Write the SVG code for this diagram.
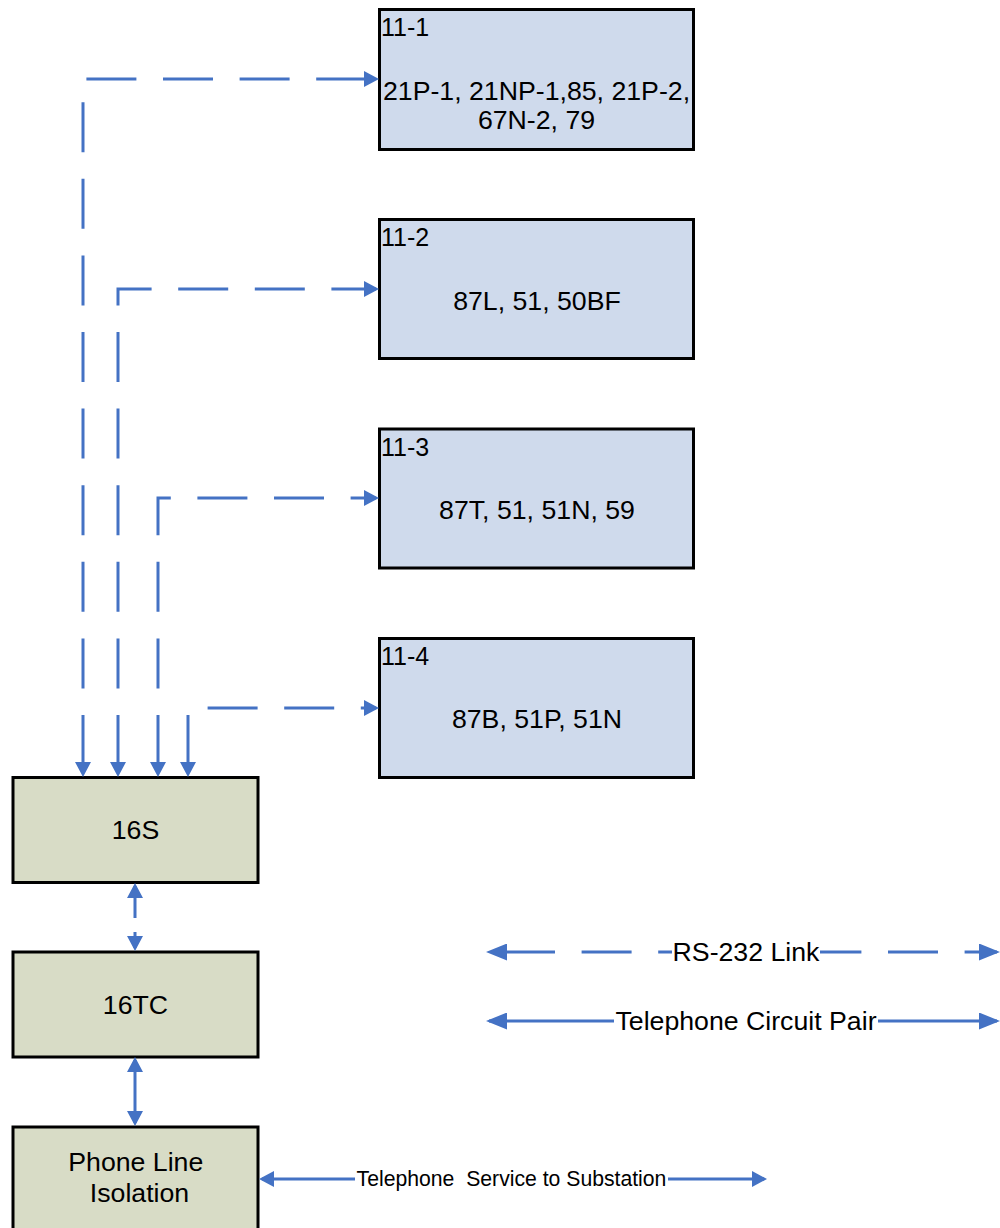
<svg xmlns="http://www.w3.org/2000/svg" width="1000" height="1228" viewBox="0 0 1000 1228">
  <style>
    .box { stroke: #000; stroke-width: 3; }
    .relay { fill: #CFDAEC; }
    .term { fill: #D8DCC6; }
    text { font-family: "Liberation Sans", Arial, sans-serif; fill: #000; }
    .lbl { font-size: 25px; }
    .body { font-size: 26.7px; text-anchor: middle; }
    .small { font-size: 21.2px; text-anchor: middle; white-space: pre; }
    .link { fill: none; stroke: #4472C4; stroke-width: 3; }
    .rs232 { stroke-dasharray: 50 26.6; }
    .both { marker-start: url(#ah); marker-end: url(#ah); }
    .bothLg { marker-start: url(#ahLg); marker-end: url(#ahLg); }
    .bg { fill: #fff; }
  </style>
  <defs>
    <marker id="ah" viewBox="0 0 15 16" refX="12" refY="8" markerWidth="15" markerHeight="16" markerUnits="userSpaceOnUse" orient="auto-start-reverse">
      <path d="M0,0 L15,8 L0,16 z" fill="#4472C4"/>
    </marker>
    <marker id="ahLg" viewBox="0 0 21 17" refX="18" refY="8.5" markerWidth="21" markerHeight="17" markerUnits="userSpaceOnUse" orient="auto-start-reverse">
      <path d="M0,0 L21,8.5 L0,17 z" fill="#4472C4"/>
    </marker>
  </defs>

  <!-- relay nodes -->
  <g id="relay-11-1">
    <rect class="box relay" x="379.5" y="9.5" width="314" height="140"/>
    <text class="lbl" x="381" y="36">11-1</text>
    <text class="body" x="536.5" y="100">21P-1, 21NP-1,85, 21P-2,</text>
    <text class="body" x="536.5" y="128.5">67N-2, 79</text>
  </g>
  <g id="relay-11-2">
    <rect class="box relay" x="379.5" y="219.5" width="314" height="139"/>
    <text class="lbl" x="381" y="246">11-2</text>
    <text class="body" x="537" y="310">87L, 51, 50BF</text>
  </g>
  <g id="relay-11-3">
    <rect class="box relay" x="379.5" y="429" width="314" height="139"/>
    <text class="lbl" x="381" y="455.5">11-3</text>
    <text class="body" x="537" y="519">87T, 51, 51N, 59</text>
  </g>
  <g id="relay-11-4">
    <rect class="box relay" x="379.5" y="638.5" width="314" height="139"/>
    <text class="lbl" x="381" y="665">11-4</text>
    <text class="body" x="537" y="728">87B, 51P, 51N</text>
  </g>

  <!-- communication equipment -->
  <g id="node-16S">
    <rect class="box term" x="13" y="777.5" width="245" height="105"/>
    <text class="body" x="135.5" y="839">16S</text>
  </g>
  <g id="node-16TC">
    <rect class="box term" x="13" y="952" width="245" height="105"/>
    <text class="body" x="135.5" y="1013.5">16TC</text>
  </g>
  <g id="node-isolation">
    <rect class="box term" x="13" y="1127" width="245" height="120"/>
    <text class="body" x="135.8" y="1171">Phone Line</text>
    <text class="body" x="139.5" y="1202">Isolation</text>
  </g>

  <!-- connectors -->
  <g id="connectors">
    <path class="link rs232 both" stroke-dashoffset="67.6" d="M83,774 V79 H376"/>
    <path class="link rs232 both" stroke-dashoffset="67.6" d="M118,774 V289 H376"/>
    <path class="link rs232 both" stroke-dashoffset="67.6" d="M158,774 V498 H376"/>
    <path class="link rs232 both" stroke-dashoffset="67.6" d="M188,774 V708 H376"/>
    <path class="link both" stroke-dasharray="32 14" d="M135,886 V948"/>
    <path class="link both" d="M135,1060 V1123"/>
    <path class="link both" d="M262,1179 H764"/>
    <rect class="bg" x="355" y="1165" width="313" height="27"/>
    <text class="small" x="511.5" y="1186" xml:space="preserve">Telephone  Service to Substation</text>
  </g>

  <!-- legend -->
  <g id="legend">
    <path class="link rs232 bothLg" stroke-dashoffset="60.6" d="M489,952 H997"/>
    <rect class="bg" x="672" y="937" width="148" height="30"/>
    <text class="body" x="746" y="961">RS-232 Link</text>
    <path class="link bothLg" d="M489,1021 H997"/>
    <rect class="bg" x="614" y="1006" width="264" height="30"/>
    <text class="body" x="746" y="1030">Telephone Circuit Pair</text>
  </g>
</svg>
